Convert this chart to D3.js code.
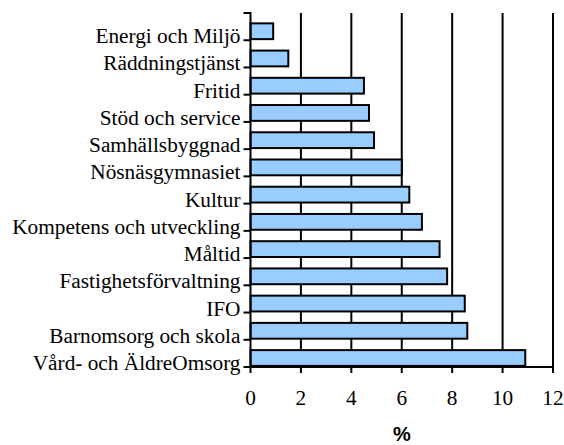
<!DOCTYPE html>
<html>
<head>
<meta charset="utf-8">
<script src="https://cdn.jsdelivr.net/npm/d3@7"></script>
<style>
  body { margin: 0; background: #fff; }
  svg { display: block; }
  .serif { font-family: "Liberation Serif", "Times New Roman", Tinos, serif; font-size: 21.3px; }
</style>
</head>
<body>
<svg id="chart" width="564" height="445"></svg>
<script>
// categories top to bottom
const categories = [
  "Energi och Miljö", "Räddningstjänst", "Fritid", "Stöd och service",
  "Samhällsbyggnad", "Nösnäsgymnasiet", "Kultur", "Kompetens och utveckling",
  "Måltid", "Fastighetsförvaltning", "IFO", "Barnomsorg och skola",
  "Vård- och ÄldreOmsorg"
]
const values = [0.9, 1.5, 4.5, 4.7, 4.9, 6.0, 6.3, 6.8, 7.5, 7.8, 8.5, 8.6, 10.9]
const xTicks = [0, 2, 4, 6, 8, 10, 12]
const axisTitle = "%"

const svg = d3.select("#chart")
const plotLeft = 250.5, plotRight = 553, plotTop = 13, plotBottom = 367

const x = d3.scaleLinear().domain([0, 12]).range([plotLeft, plotRight])
const y = d3.scaleBand().domain(categories).range([plotTop, plotBottom])
const bw = y.bandwidth()

// vertical gridlines
svg.append("g")
  .selectAll("line")
  .data(xTicks.filter(t => t > 0))
  .enter()
  .append("line")
  .attr("x1", d => x(d)).attr("x2", d => x(d))
  .attr("y1", plotTop).attr("y2", plotBottom)
  .attr("stroke", "black")
  .attr("stroke-width", 2)

// bars sit in the lower part of each band
svg.append("g")
  .selectAll("rect")
  .data(categories)
  .enter()
  .append("rect")
  .attr("x", x(0))
  .attr("y", d => y(d) + bw * 0.38)
  .attr("width", (d, i) => x(values[i]) - x(0))
  .attr("height", bw * 0.58)
  .attr("fill", "#99ccff")
  .attr("stroke", "black")
  .attr("stroke-width", 2)

// axes lines
svg.append("line")
  .attr("x1", plotLeft).attr("x2", plotLeft).attr("y1", plotTop - 1).attr("y2", plotBottom + 1)
  .attr("stroke", "black").attr("stroke-width", 2)
svg.append("line")
  .attr("x1", plotLeft - 1).attr("x2", plotRight + 1).attr("y1", plotBottom).attr("y2", plotBottom)
  .attr("stroke", "black").attr("stroke-width", 2)

// left ticks at band boundaries
let bounds = categories.map(c => y(c)).concat([plotBottom])
svg.append("g")
  .selectAll("line")
  .data(bounds)
  .enter()
  .append("line")
  .attr("x1", plotLeft - 7).attr("x2", plotLeft)
  .attr("y1", d => d).attr("y2", d => d)
  .attr("stroke", "black").attr("stroke-width", 2)

// bottom ticks
svg.append("g")
  .selectAll("line")
  .data(xTicks)
  .enter()
  .append("line")
  .attr("x1", d => x(d)).attr("x2", d => x(d))
  .attr("y1", plotBottom).attr("y2", plotBottom + 6)
  .attr("stroke", "black").attr("stroke-width", 2)

// category labels
svg.append("g")
  .selectAll("text")
  .data(categories)
  .enter()
  .append("text")
  .attr("class", "serif")
  .attr("x", plotLeft - 10)
  .attr("y", d => y(d) + bw + 3)
  .attr("text-anchor", "end")
  .text(d => d)

// tick labels
svg.append("g")
  .selectAll("text")
  .data(xTicks)
  .enter()
  .append("text")
  .attr("class", "serif")
  .attr("x", d => x(d))
  .attr("y", 405)
  .attr("text-anchor", "middle")
  .text(d => d)

svg.append("text")
  .attr("x", 402)
  .attr("y", 441)
  .attr("text-anchor", "middle")
  .style("font-family", "'Liberation Sans', Arial, sans-serif")
  .style("font-weight", "bold")
  .style("font-size", "20px")
  .text(axisTitle)
</script>
</body>
</html>
